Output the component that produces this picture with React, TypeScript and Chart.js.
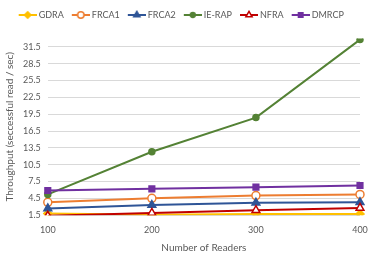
import React, { useEffect, useRef } from 'react';
import { Chart, registerables } from 'chart.js';
import { drawPoint } from 'chart.js/helpers';
Chart.register(...registerables);

const categories = ['100', '200', '300', '400'];
const seriesNames = ['GDRA', 'FRCA1', 'FRCA2', 'IE-RAP', 'NFRA', 'DMRCP'];
const gdra = [1.8, 1.6, 1.7, 1.7];
const frca1 = [3.8, 4.5, 5.0, 5.2];
const frca2 = [2.7, 3.3, 3.7, 3.8];
const ieRap = [5.2, 12.8, 18.9, 32.8];
const nfra = [1.4, 1.9, 2.4, 2.8];
const dmrcp = [5.9, 6.2, 6.5, 6.8];
const yTicks = [1.5, 4.5, 7.5, 10.5, 13.5, 16.5, 19.5, 22.5, 25.5, 28.5, 31.5];
const yMin = 1.5;
const yMax = 33;

const seriesValues = [gdra, frca1, frca2, ieRap, nfra, dmrcp];
const colors = ['#FFC000', '#ED7D31', '#2F5597', '#548235', '#C00000', '#7030A0'];
const styles = ['rectRot', 'circle', 'triangle', 'circle', 'triangle', 'rect'];
const fills = ['#FFC000', '#FFFFFF', '#2F5597', '#548235', '#FFFFFF', '#7030A0'];
const radii = [4, 4, 4.5, 3, 4.5, 4];

const FONT = 'Lato, "Open Sans", sans-serif';

function legendImage(i: number): HTMLCanvasElement {
  const c = document.createElement('canvas');
  c.width = 19;
  c.height = 10;
  const ctx = c.getContext('2d')!;
  ctx.strokeStyle = colors[i];
  ctx.lineWidth = 2;
  ctx.beginPath();
  ctx.moveTo(1, 5);
  ctx.lineTo(19, 5);
  ctx.stroke();
  ctx.fillStyle = fills[i];
  ctx.strokeStyle = colors[i];
  ctx.lineWidth = 1.5;
  drawPoint(ctx, { pointStyle: styles[i] as any, radius: radii[i] * 0.8, borderWidth: 1.5, rotation: 0 } as any, 10, 5);
  return c;
}

const legendSpacer = {
  id: 'legendSpacer',
  beforeInit(chart: any) {
    const lg = chart.legend;
    const origFit = lg.fit;
    lg.fit = function (...args: any[]) {
      origFit.apply(lg, args);
      lg.height += 9;
    };
  },
};

export default function App() {
  const ref = useRef<HTMLCanvasElement | null>(null);
  useEffect(() => {
    if (!ref.current) return;
    const images = seriesNames.map((_, i) => legendImage(i));
    const chart = new Chart(ref.current, {
      type: 'line',
      plugins: [legendSpacer],
      data: {
        labels: categories,
        datasets: seriesNames.map((name, i) => ({
          label: name,
          data: seriesValues[i],
          borderColor: colors[i],
          backgroundColor: fills[i],
          borderWidth: 2,
          pointStyle: styles[i] as any,
          pointRadius: radii[i],
          pointBorderWidth: 1.5,
          pointBorderColor: colors[i],
          pointBackgroundColor: fills[i],
          tension: 0,
          order: seriesNames.length - i,
        })),
      },
      options: {
        animation: false,
        responsive: true,
        maintainAspectRatio: false,
        layout: { padding: { left: 4, right: 17, top: 1, bottom: 5 } },
        plugins: {
          tooltip: { enabled: false },
          legend: {
            display: true,
            position: 'top',
            labels: {
              usePointStyle: true,
              pointStyleWidth: 14,
              padding: 9.5,
              color: '#595959',
              font: { family: FONT, size: 9 },
              generateLabels: (ch: any) =>
                ch.data.datasets.map((ds: any, i: number) => ({
                  text: ds.label,
                  pointStyle: images[i],
                  fillStyle: colors[i],
                  strokeStyle: colors[i],
                  lineWidth: 0,
                  datasetIndex: i,
                  hidden: false,
                  fontColor: '#595959',
                })),
            },
          },
        },
        scales: {
          x: {
            type: 'category',
            offset: false,
            grid: { display: false },
            border: { display: false },
            ticks: { color: '#595959', font: { family: FONT, size: 9 }, padding: 1, maxRotation: 0 },
            title: { display: true, text: 'Number of Readers', color: '#595959', font: { family: FONT, size: 10 }, padding: { top: 6, bottom: 0 } },
          },
          y: {
            type: 'linear',
            min: yMin,
            max: yMax,
            afterBuildTicks: (axis: any) => {
              axis.ticks = yTicks.map((v) => ({ value: v }));
            },
            grid: { color: '#D9D9D9', lineWidth: 1, drawTicks: false },
            border: { display: false },
            ticks: {
              color: '#595959',
              font: { family: FONT, size: 9 },
              padding: 7,
              callback: (v: any) => Number(v).toFixed(1),
            },
            title: { display: true, text: 'Throughput (seccessful read / sec)', color: '#595959', font: { family: FONT, size: 10 }, padding: { top: 0, bottom: 0 } },
          },
        },
      },
    });
    return () => chart.destroy();
  }, []);
  return (
    <div style={{ position: 'fixed', left: 0, top: 0, width: 377, height: 259 }}>
      <canvas ref={ref} />
    </div>
  );
}
